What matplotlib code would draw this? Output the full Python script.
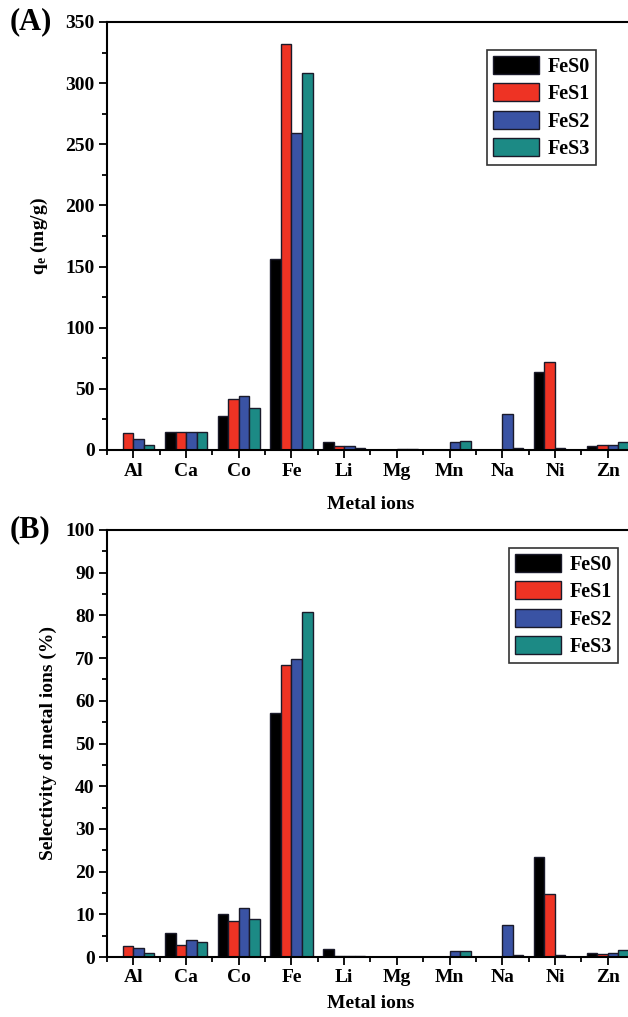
import numpy as np
import matplotlib.pyplot as plt
from matplotlib.ticker import MultipleLocator

plt.rcParams['font.family'] = ['Liberation Serif', 'DejaVu Serif']
plt.rcParams['font.weight'] = 'bold'
plt.rcParams['mathtext.fontset'] = 'custom'
plt.rcParams['mathtext.rm'] = 'Liberation Serif:bold'
plt.rcParams['mathtext.bf'] = 'Liberation Serif:bold'
plt.rcParams['mathtext.it'] = 'Liberation Serif:bold'

metals = ["Al", "Ca", "Co", "Fe", "Li", "Mg", "Mn", "Na", "Ni", "Zn"]
series = ["FeS0", "FeS1", "FeS2", "FeS3"]
colors = ["#000000", "#ee3324", "#3a53a4", "#1c8a85"]

# adsorption capacity q_e (mg/g)
qe_fes0 = [0.0, 14.8, 27.6, 156.0, 6.5, 0.0, 0.0, 0.0, 64.0, 3.1]
qe_fes1 = [13.5, 14.8, 41.9, 332.0, 3.1, 0.0, 0.0, 0.0, 72.3, 4.2]
qe_fes2 = [9.2, 14.8, 44.0, 259.5, 3.1, 1.0, 6.4, 29.6, 1.8, 4.2]
qe_fes3 = [3.9, 14.8, 34.5, 308.5, 1.8, 1.0, 7.2, 1.8, 0.0, 6.4]

# selectivity (%)
sel_fes0 = [0.0, 5.6, 10.0, 57.1, 1.9, 0.0, 0.0, 0.0, 23.5, 1.05]
sel_fes1 = [2.5, 2.7, 8.4, 68.5, 0.35, 0.0, 0.0, 0.0, 14.8, 0.6]
sel_fes2 = [2.2, 3.9, 11.4, 69.7, 0.35, 0.0, 1.5, 7.6, 0.5, 1.0]
sel_fes3 = [1.0, 3.6, 8.8, 80.9, 0.2, 0.0, 1.5, 0.5, 0.0, 1.6]

W, H = 628, 1017
fig = plt.figure(figsize=(W / 100, H / 100), dpi=100)


def px_axes(left, top, right, bottom):
    return fig.add_axes([left / W, 1 - bottom / H, (right - left) / W, (bottom - top) / H])


def draw_panel(ax, data, ymax, major, minor, ylabel, tag, legend_anchor,
               xlabelpad, ylabelpad):
    x = np.arange(len(metals))
    width = 0.2
    for i, (vals, name, c) in enumerate(zip(data, series, colors)):
        ax.bar(x + (i - 1.5) * width, vals, width, color=c, edgecolor="#1a1a2a",
               linewidth=1.0, label=name)
    ax.set_xlim(-0.5, 9.5)
    ax.set_ylim(0, ymax)
    ax.set_xticks(x)
    ax.set_xticklabels(metals)
    ax.set_xticks(np.arange(-0.5, 10, 1), minor=True)
    ax.yaxis.set_major_locator(MultipleLocator(major))
    ax.yaxis.set_minor_locator(MultipleLocator(minor))
    ax.tick_params(axis="both", which="major", direction="out", length=6, width=1.3,
                   labelsize=14, pad=3)
    ax.tick_params(axis="both", which="minor", direction="out", length=3.5, width=1.3)
    ax.tick_params(top=False, right=False, which="both")
    for s in ax.spines.values():
        s.set_linewidth(1.5)
    ax.set_xlabel("Metal ions", fontsize=14, fontweight="bold", labelpad=xlabelpad)
    ax.set_ylabel(ylabel, fontsize=14, fontweight="bold", labelpad=ylabelpad)
    leg = ax.legend(loc="upper left", bbox_to_anchor=legend_anchor, fontsize=14.5,
                    frameon=True, fancybox=False, edgecolor="black",
                    handlelength=2.3, handleheight=1.0, handletextpad=0.4,
                    labelspacing=0.32, borderpad=0.3, borderaxespad=0)
    leg.get_frame().set_linewidth(1.2)
    ax.text(-0.185, 1.0, tag, transform=ax.transAxes, fontsize=22, fontweight="bold",
            ha="left", va="center")


ax1 = px_axes(107, 22, 634, 450)
draw_panel(ax1, [qe_fes0, qe_fes1, qe_fes2, qe_fes3], 350, 50, 25,
           r"$\mathbf{q_e}$ (mg/g)", "(A)", ((487 - 107) / 527, (450 - 50) / 428),
           12, 11)

ax2 = px_axes(107, 530, 634, 957)
draw_panel(ax2, [sel_fes0, sel_fes1, sel_fes2, sel_fes3], 100, 10, 5,
           "Selectivity of metal ions (%)", "(B)", ((509 - 107) / 527, (957 - 548) / 427),
           6, 6)

fig.savefig("out.png", dpi=100)
